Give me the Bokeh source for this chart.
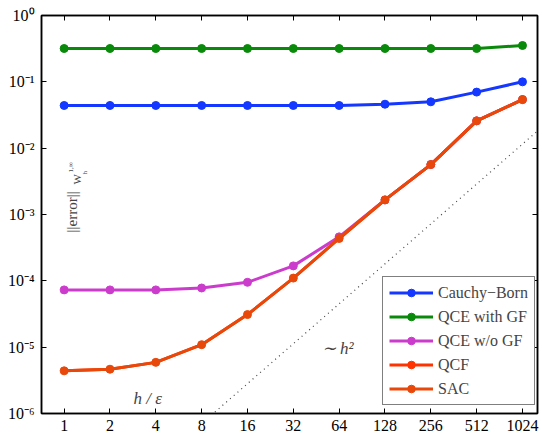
import numpy as np
from bokeh.plotting import figure
from bokeh.models import (CustomJSTickFormatter, FixedTicker, LogAxis, Label,
                          Legend, LegendItem, PrintfTickFormatter)
from bokeh.embed import file_html
from bokeh.resources import INLINE

# ---- data ----
h = [1, 2, 4, 8, 16, 32, 64, 128, 256, 512, 1024]
cauchy_born = [0.044, 0.044, 0.044, 0.044, 0.044, 0.044, 0.044, 0.046, 0.050, 0.070, 0.100]
qce_with_gf = [0.318, 0.318, 0.318, 0.318, 0.318, 0.318, 0.318, 0.318, 0.318, 0.318, 0.353]
qce_wo_gf = [7.3e-5, 7.3e-5, 7.3e-5, 7.8e-5, 9.5e-5, 1.68e-4, 4.6e-4, 1.66e-3, 5.66e-3, 0.0258, 0.054]
qcf = [4.4e-6, 4.65e-6, 5.9e-6, 1.09e-5, 3.1e-5, 1.1e-4, 4.35e-4, 1.66e-3, 5.66e-3, 0.0258, 0.054]
sac = [4.4e-6, 4.65e-6, 5.9e-6, 1.09e-5, 3.1e-5, 1.1e-4, 4.35e-4, 1.66e-3, 5.66e-3, 0.0258, 0.054]
ref_h = [1, 2048]
ref_err = [1.1e-8, 4.61e-2]   # ~ h^2 guide line endpoints
x_ticks = [1, 2, 4, 8, 16, 32, 64, 128, 256, 512, 1024]
y_ticks = [1e-6, 1e-5, 1e-4, 1e-3, 1e-2, 1e-1, 1]

SERIF = "Liberation Serif"
FRAME_LEFT, FRAME_BOTTOM = 41, 413

p = figure(width=542, height=437, x_axis_type="log", y_axis_type="log",
           x_range=(0.71, 1285), y_range=(1e-6, 1),
           output_backend="svg", toolbar_location=None,
           min_border_left=41, min_border_right=5, min_border_top=15,
           min_border_bottom=24)
p.grid.visible = False
p.outline_line_color = "black"
p.outline_line_width = 1.5
p.background_fill_color = "white"
p.border_fill_color = "white"

sup_js = """
const sup = {"-":"\u207b","0":"\u2070","1":"\u00b9","2":"\u00b2","3":"\u00b3",
             "4":"\u2074","5":"\u2075","6":"\u2076","7":"\u2077","8":"\u2078","9":"\u2079"};
const e = Math.round(Math.log10(tick)).toString();
return "10" + e.split("").map(c => sup[c]).join("");
"""

xa = p.xaxis[0]
xa.ticker = FixedTicker(ticks=x_ticks)
xa.formatter = PrintfTickFormatter(format="%d")
ya = p.yaxis[0]
ya.ticker = FixedTicker(ticks=y_ticks)
ya.formatter = CustomJSTickFormatter(code=sup_js)

for ax in (xa, ya):
    ax.major_tick_in = 5
    ax.major_tick_out = 0
    ax.minor_tick_line_color = None
    ax.axis_line_width = 1.5
    ax.major_tick_line_width = 1
    ax.major_label_text_font = SERIF
    ax.major_label_text_font_size = "16px"
    ax.major_label_text_color = "black"
xa.major_label_standoff = 6
ya.major_label_standoff = 7

top = LogAxis(ticker=FixedTicker(ticks=x_ticks), formatter=PrintfTickFormatter(format=""))
right = LogAxis(ticker=FixedTicker(ticks=y_ticks), formatter=PrintfTickFormatter(format=""))
for ax in (top, right):
    ax.major_tick_in = 5
    ax.major_tick_out = 0
    ax.minor_tick_line_color = None
    ax.axis_line_width = 1.5
    ax.major_label_text_font_size = "0px"
    ax.major_label_standoff = 0
p.add_layout(top, "above")
p.add_layout(right, "right")

# guide line
p.line(ref_h, ref_err, line_color="#444444", line_dash="1 4", line_width=1.2)

series = [
    ("Cauchy\u2212Born", cauchy_born, "#1438ff", 8),
    ("QCE with GF", qce_with_gf, "#0a8a0a", 8),
    ("QCE w/o GF", qce_wo_gf, "#cc3ccc", 8),
    ("QCF", qcf, "#ff3300", 3),
    ("SAC", sac, "#e8480a", 8),
]
items = []
for name, ys, col, ms in series:
    l = p.line(h, ys, line_color=col, line_width=3)
    s = p.scatter(h, ys, size=ms, fill_color=col, line_color=col)
    items.append(LegendItem(label=name, renderers=[l, s]))

legend = Legend(items=items, location=(341, 8), padding=6, spacing=5,
                glyph_width=44, glyph_height=19, label_height=19,
                label_standoff=5, label_text_font=SERIF,
                label_text_font_size="16px", border_line_color="black",
                border_line_width=1.5, background_fill_alpha=1.0)
p.add_layout(legend, "center")

# annotations
p.add_layout(Label(x=3.54, y=1.7e-6, text="h / \u03b5", text_font=SERIF,
                   text_font_style="italic", text_font_size="17px",
                   text_align="center", text_baseline="middle"))
p.add_layout(Label(x=62.5, y=9.5e-6, text="\u223c h\u00b2", text_font=SERIF,
                   text_font_style="italic", text_font_size="17px",
                   text_align="center", text_baseline="middle"))

# rotated y label inside the frame: ||error|| W^{1,inf}_h
def lab(px, py, text, size):
    # px, py: page pixel coordinates of the anchor (baseline start)
    p.add_layout(Label(x=px - FRAME_LEFT, y=FRAME_BOTTOM - py,
                       x_units="screen", y_units="screen",
                       text=text, angle=np.pi / 2, text_font=SERIF,
                       text_font_size=size, text_align="left",
                       text_baseline="alphabetic"))

lab(71, 232, "||error||", "15px")
lab(76, 184, "W", "11px")
lab(70, 172, "1,\u221e", "7px")
lab(84, 174, "h", "7px")

open("out.html", "w").write(file_html(p, INLINE))
